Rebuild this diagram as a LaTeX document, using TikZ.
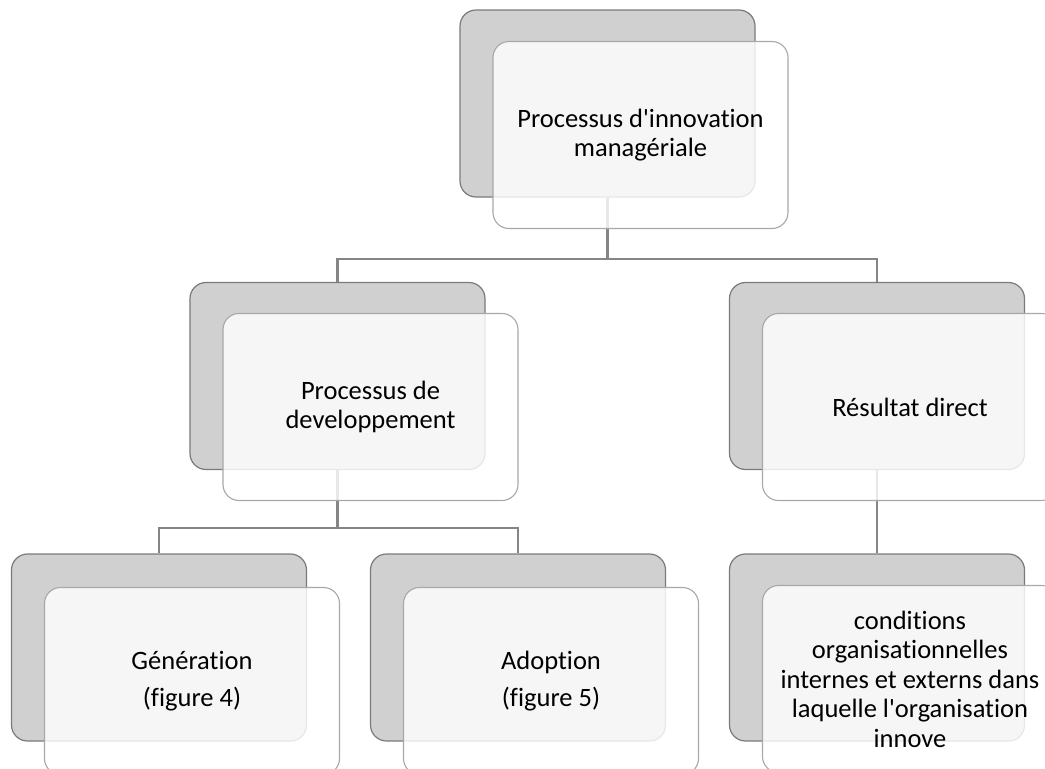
\documentclass[tikz,border=0pt]{standalone}
\usepackage{fontspec}
\setmainfont{Carlito}[Ligatures={TeXOff,NoCommon}]
\usetikzlibrary{backgrounds}
\definecolor{backgray}{HTML}{D0D0D0}
\definecolor{backedge}{HTML}{7A7A7A}
\definecolor{frontedge}{HTML}{A8A8A8}
\definecolor{linkgray}{HTML}{858585}
\tikzset{
  backbox/.style={rectangle, rounded corners=16pt, minimum width=295pt, minimum height=187pt, fill=backgray, draw=backedge, line width=1.2pt},
  frontbox/.style={rectangle, rounded corners=16pt, minimum width=295pt, minimum height=187pt, fill=white, fill opacity=0.82, text opacity=1, draw=frontedge, line width=1.1pt, align=center, inner sep=2pt, font=\fontsize{26.5}{29.5}\selectfont},
  link/.style={draw=linkgray, line width=2.2pt}
}
\begin{document}
\begin{tikzpicture}[x=1pt,y=-1pt]
\useasboundingbox (0,0) rectangle (1045,769);
\clip (0,0) rectangle (1045,769);
\node[backbox] (b0) at (607.5,103.5) {};
\node[frontbox] (f0) at (640.5,135) {Processus d'innovation\\managériale};
\node[backbox] (b1) at (337.5,376) {};
\node[frontbox] (f1) at (370.5,407) {Processus de\\developpement};
\node[backbox] (b2) at (877,376) {};
\node[frontbox] (f2) at (910,407) {Résultat direct};
\node[backbox] (b3) at (159,647.5) {};
\node[frontbox] (f3) at (192,681) {Génération\\[7pt](figure 4)};
\node[backbox] (b4) at (518,647.5) {};
\node[frontbox] (f4) at (551,681) {Adoption\\[7pt](figure 5)};
\node[backbox] (b5) at (877,647.5) {};
\node[frontbox] (f5) at (910,679) {conditions\\organisationnelles\\internes et externs dans\\laquelle l'organisation\\innove};
\begin{scope}[on background layer]
\draw[link] (b0.south) -- ++(0,61) -| (b1.north);
\draw[link] (b0.south) -- ++(0,61) -| (b2.north);
\draw[link] (b1.south) -- ++(0,58) -| (b3.north);
\draw[link] (b1.south) -- ++(0,58) -| (b4.north);
\draw[link] (b2.south) -- (b5.north);
\end{scope}
\end{tikzpicture}
\end{document}
